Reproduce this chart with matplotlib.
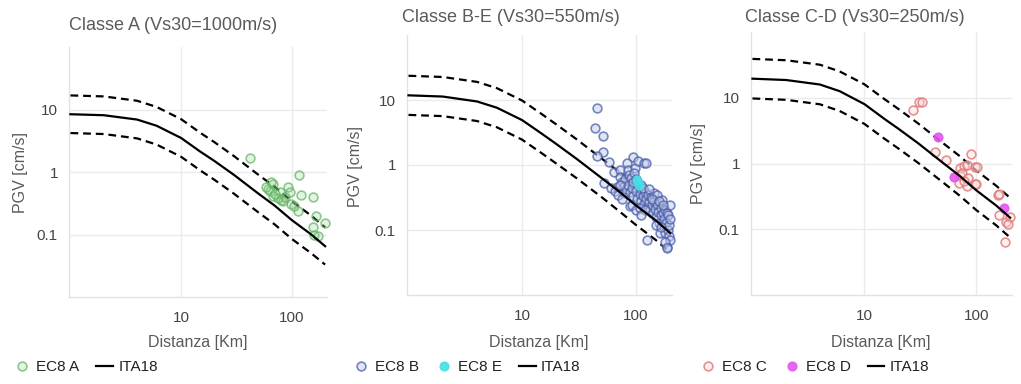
import matplotlib
matplotlib.use("Agg")
import matplotlib.pyplot as plt

plt.rcParams['font.family'] = ['Liberation Sans', 'DejaVu Sans']

# ---------------- data ----------------
dist_model = [1, 2, 4, 6, 10, 15, 20, 30, 50, 70, 100, 150, 200]

ita18_A = [8.4, 8.1, 6.9, 5.5, 3.5, 2.1, 1.5, 0.9, 0.45, 0.29, 0.17, 0.1, 0.065]
ita18_A_up = [16.8, 16.2, 13.8, 11.0, 7.0, 4.2, 3.0, 1.8, 0.9, 0.58, 0.34, 0.2, 0.13]
ita18_A_lo = [4.2, 4.05, 3.45, 2.75, 1.75, 1.05, 0.75, 0.45, 0.225, 0.145, 0.085, 0.05, 0.033]

ita18_B = [11.8, 11.3, 9.5, 7.6, 4.9, 3.0, 2.1, 1.25, 0.63, 0.40, 0.24, 0.14, 0.09]
ita18_B_up = [23.6, 22.6, 19.0, 15.2, 9.8, 6.0, 4.2, 2.5, 1.26, 0.8, 0.48, 0.28, 0.18]
ita18_B_lo = [5.9, 5.65, 4.75, 3.8, 2.45, 1.5, 1.05, 0.63, 0.32, 0.2, 0.12, 0.07, 0.045]

ita18_C = [19.5, 18.6, 15.9, 12.6, 8.0, 4.8, 3.4, 2.05, 1.03, 0.66, 0.39, 0.23, 0.15]
ita18_C_up = [39.0, 37.2, 31.8, 25.2, 16.0, 9.6, 6.8, 4.1, 2.06, 1.32, 0.78, 0.46, 0.3]
ita18_C_lo = [9.75, 9.3, 7.95, 6.3, 4.0, 2.4, 1.7, 1.03, 0.52, 0.33, 0.195, 0.115, 0.075]

ec8A_dist = [41.8, 116, 61, 67.6, 92, 78, 96, 67.6, 120, 154, 80.6, 99, 114, 165, 199,
             154, 160, 171, 63, 65.4, 83, 105, 86, 59, 75, 70]
ec8A_pgv = [1.66, 0.88, 0.54, 0.64, 0.58, 0.47, 0.47, 0.42, 0.43, 0.40, 0.35, 0.31, 0.24, 0.2, 0.155,
            0.13, 0.1, 0.094, 0.5, 0.68, 0.34, 0.29, 0.4, 0.57, 0.38, 0.45]

ec8B_dist = [45.5, 44, 51, 51, 45.5, 57.5, 52, 64, 68, 73, 78, 83, 85, 89, 92, 94, 98, 105, 117, 123,
             125, 73, 75, 78, 80, 82, 85, 87, 88, 90, 92, 95, 97, 100, 102, 105, 108, 110, 112, 115,
             118, 120, 122, 125, 128, 130, 133, 135, 138, 140, 143, 145, 148, 150, 153, 155, 158, 160,
             163, 165, 168, 170, 172, 175, 178, 180, 182, 185, 187, 190, 192, 195, 197, 200, 200, 187,
             181, 187, 198, 60, 65, 70, 72, 76, 95, 100, 110, 115, 130, 100, 108, 120, 140, 160, 175,
             112, 150, 165]
ec8B_pgv = [7.4, 3.7, 2.8, 1.6, 1.37, 1.1, 0.52, 0.78, 0.46, 0.83, 0.37, 1.06, 0.83, 0.23, 0.24, 1.35,
            0.9, 1.17, 1.06, 1.08, 0.07, 0.66, 0.55, 0.48, 0.6, 0.42, 0.5, 0.7, 0.38, 0.62, 0.45, 0.33,
            0.75, 0.4, 0.3, 0.5, 0.36, 0.28, 0.42, 0.33, 0.25, 0.38, 0.3, 0.22, 0.35, 0.27, 0.2, 0.32,
            0.24, 0.18, 0.37, 0.28, 0.21, 0.16, 0.34, 0.25, 0.19, 0.13, 0.09, 0.22, 0.17, 0.29, 0.12,
            0.18, 0.15, 0.2, 0.09, 0.13, 0.18, 0.1, 0.17, 0.08, 0.12, 0.24, 0.07, 0.055, 0.066, 0.052,
            0.15, 0.45, 0.4, 0.35, 0.5, 0.3, 0.55, 0.6, 0.5, 0.45, 0.42, 0.2, 0.22, 0.2, 0.3, 0.28,
            0.24, 0.17, 0.12, 0.11]

ec8E_dist = [102, 106]
ec8E_pgv = [0.58, 0.5]

ec8C_dist = [27.3, 30.9, 33, 42.3, 53.6, 90, 72, 77, 82, 98, 102, 70, 72, 75, 83, 85, 96.6, 100, 78,
             157, 160, 159, 182, 198, 179, 190]
ec8C_pgv = [6.5, 8.7, 8.5, 1.47, 1.13, 1.4, 0.85, 0.92, 0.95, 0.89, 0.9, 0.5, 0.66, 0.72, 0.45, 0.6,
            0.49, 0.48, 0.55, 0.33, 0.34, 0.165, 0.13, 0.155, 0.065, 0.12]

ec8D_dist = [45.2, 63, 177]
ec8D_pgv = [2.5, 0.63, 0.21]

titles = ["Classe A (Vs30=1000m/s)", "Classe B-E (Vs30=550m/s)", "Classe C-D (Vs30=250m/s)"]
x_ticks = [10, 100]
x_ticklabels = ["10", "100"]
y_ticks = [0.1, 1, 10]
y_ticklabels = ["0.1", "1", "10"]

# ---------------- figure ----------------
W, H = 1021, 384
fig = plt.figure(figsize=(W / 100, H / 100), dpi=100)


def px_axes(left, top, right, bottom):
    return fig.add_axes([left / W, 1 - bottom / H, (right - left) / W, (bottom - top) / H])


axes = [px_axes(69, 47, 327, 297), px_axes(407, 35, 672, 295), px_axes(751, 32, 1012, 295)]

grid_c = '#ebebeb'
title_c = '#5a5a5a'
tick_c = '#444444'

green_face = (0.60, 0.82, 0.60, 0.25)
green_edge = (0.38, 0.70, 0.38, 0.70)
blue_face = (0.76, 0.80, 0.92, 0.50)
blue_edge = (0.30, 0.38, 0.67, 0.75)
cyan_c = '#45dfe6'
pink_face = (0.98, 0.86, 0.86, 0.40)
pink_edge = (0.88, 0.47, 0.47, 0.80)
mag_c = '#e455ee'

models = [(ita18_A, ita18_A_up, ita18_A_lo), (ita18_B, ita18_B_up, ita18_B_lo),
          (ita18_C, ita18_C_up, ita18_C_lo)]

for ax, (mid, up, lo) in zip(axes, models):
    ax.set_xscale('log')
    ax.set_yscale('log')
    ax.set_xlim(0.97, 208)
    ax.set_ylim(0.01, 100)
    ax.set_xticks(x_ticks)
    ax.set_xticklabels(x_ticklabels)
    ax.set_yticks(y_ticks)
    ax.set_yticklabels(y_ticklabels)
    ax.minorticks_off()
    ax.tick_params(axis='both', length=0, labelsize=11, colors=tick_c)
    ax.tick_params(axis='x', pad=10)
    ax.tick_params(axis='y', pad=8)
    ax.grid(True, color=grid_c, linewidth=1.0)
    ax.set_axisbelow(True)
    for s in ['top', 'right']:
        ax.spines[s].set_visible(False)
    for s in ['left', 'bottom']:
        ax.spines[s].set_color('#e2e2e2')
        ax.spines[s].set_linewidth(1.0)
    ax.plot(dist_model, up, color='black', lw=1.6, ls=(0, (3.5, 2.2)), zorder=3)
    ax.plot(dist_model, lo, color='black', lw=1.6, ls=(0, (3.5, 2.2)), zorder=3)

msz = 6.3
a0, a1, a2 = axes

hA = a0.plot(ec8A_dist, ec8A_pgv, 'o', ms=msz, mfc=green_face, mec=green_edge, mew=1.2,
             label='EC8 A', zorder=4, clip_on=False)[0]
lA = a0.plot(dist_model, ita18_A, color='black', lw=1.6, label='ITA18', zorder=5)[0]

hB = a1.plot(ec8B_dist, ec8B_pgv, 'o', ms=msz, mfc=blue_face, mec=blue_edge, mew=1.2,
             label='EC8 B', zorder=4, clip_on=False)[0]
hE = a1.plot(ec8E_dist, ec8E_pgv, 'o', ms=msz, mfc=cyan_c, mec=cyan_c, mew=1.0,
             label='EC8 E', zorder=4, alpha=0.9, clip_on=False)[0]
lB = a1.plot(dist_model, ita18_B, color='black', lw=1.6, label='ITA18', zorder=5)[0]

hC = a2.plot(ec8C_dist, ec8C_pgv, 'o', ms=msz, mfc=pink_face, mec=pink_edge, mew=1.2,
             label='EC8 C', zorder=4, clip_on=False)[0]
hD = a2.plot(ec8D_dist, ec8D_pgv, 'o', ms=msz, mfc=mag_c, mec=mag_c, mew=1.0,
             label='EC8 D', zorder=4, alpha=0.9, clip_on=False)[0]
lC = a2.plot(dist_model, ita18_C, color='black', lw=1.6, label='ITA18', zorder=5)[0]

# titles
fig.text(69 / W, 1 - 25 / H, titles[0], fontsize=13, color=title_c, ha='left', va='center')
fig.text(402 / W, 1 - 18 / H, titles[1], fontsize=13, color=title_c, ha='left', va='center')
fig.text(745 / W, 1 - 17 / H, titles[2], fontsize=13, color=title_c, ha='left', va='center')

# axis labels
for (xc, yc, xlc) in [(20, 172, 198), (355, 166, 539), (698, 164, 881)]:
    fig.text(xc / W, 1 - yc / H, 'PGV [cm/s]', rotation=90, fontsize=11.5, color=title_c,
             ha='center', va='center')
    fig.text(xlc / W, 1 - 342 / H, 'Distanza [Km]', fontsize=11.5, color=title_c,
             ha='center', va='center')

# legends
leg_kw = dict(loc='center left', frameon=False, fontsize=11, handlelength=1.1,
              handletextpad=0.35, columnspacing=1.1, borderpad=0, borderaxespad=0,
              labelcolor='#222222', markerscale=1.0)
for handles, x0 in [([hA, lA], 14), ([hB, hE, lB], 353), ([hC, hD, lC], 700)]:
    leg = fig.legend(handles=handles, labels=[h.get_label() for h in handles], ncol=len(handles),
                     bbox_to_anchor=(x0 / W, 1 - 367 / H), **leg_kw)

fig.savefig('out.png', dpi=100)
